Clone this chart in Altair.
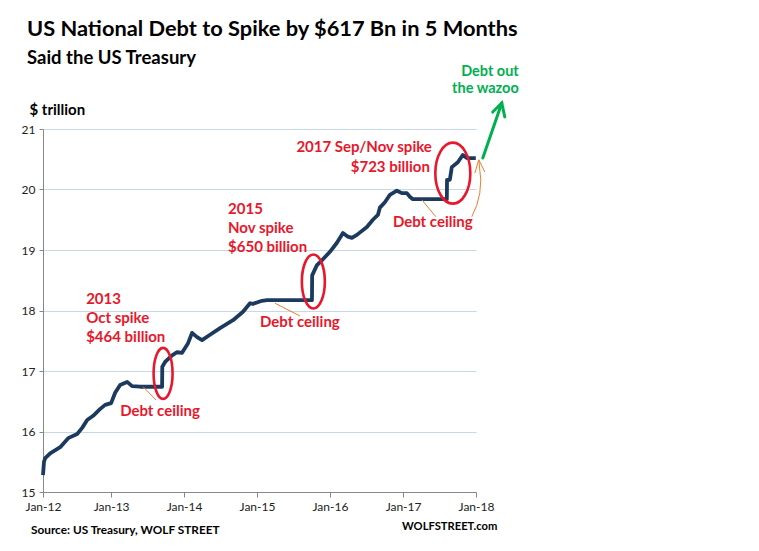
import altair as alt
import pandas as pd

# ---------------- data ----------------
dates = ["2012-01-26", "2012-01-31", "2012-02-06", "2012-03-02", "2012-04-21", "2012-05-31",
         "2012-07-15", "2012-08-09", "2012-09-03", "2012-10-03", "2012-11-06", "2012-12-02",
         "2013-01-01", "2013-01-21", "2013-02-15", "2013-03-22", "2013-04-16", "2013-05-26",
         "2013-09-13", "2013-09-14", "2013-09-28", "2013-11-02", "2013-11-27", "2013-12-22",
         "2014-01-21", "2014-02-10", "2014-03-07", "2014-04-01", "2014-05-11", "2014-06-30",
         "2014-09-03", "2014-10-23", "2014-11-27", "2014-12-12",
         "2015-01-26", "2015-02-20", "2015-10-03", "2015-10-04", "2015-10-28", "2015-11-22",
         "2016-01-01", "2016-02-05", "2016-03-06", "2016-03-31", "2016-04-20", "2016-05-15",
         "2016-07-04", "2016-08-03", "2016-08-28", "2016-09-07", "2016-10-02", "2016-10-27",
         "2016-12-01", "2016-12-26",
         "2017-01-20", "2017-02-04", "2017-02-19", "2017-08-08", "2017-08-09", "2017-08-23",
         "2017-09-02", "2017-10-02", "2017-10-27", "2017-11-16", "2017-12-31"]
debt = [15.28, 15.50, 15.56, 15.64, 15.74, 15.89, 15.96, 16.06, 16.19, 16.26, 16.37, 16.44,
        16.47, 16.64, 16.77, 16.82, 16.75, 16.74, 16.74, 17.07, 17.15, 17.26, 17.31, 17.30,
        17.46, 17.63, 17.56, 17.51, 17.60, 17.71, 17.84, 17.98, 18.12, 18.11,
        18.16, 18.17, 18.17, 18.58, 18.75, 18.83,
        18.97, 19.12, 19.28, 19.22, 19.20, 19.25, 19.38, 19.50, 19.58, 19.70, 19.79, 19.91,
        19.98, 19.94,
        19.94, 19.88, 19.84, 19.84, 20.16, 20.16, 20.37, 20.45, 20.57, 20.52, 20.52]

x_tick_dates = ["2012-01-26", "2013-01-01", "2014-01-01", "2015-01-01",
                "2016-01-01", "2017-01-01", "2018-01-01"]
y_ticks = [15, 16, 17, 18, 19, 20, 21]

# ellipse centres around the three spikes
ell_dates = ["2013-09-18", "2015-10-10", "2017-09-07"]
ell_values = [16.96, 18.48, 20.27]

# red annotation texts (left aligned)
red_text = ["2013", "Oct spike", "$464 billion", "Debt ceiling",
            "2015", "Nov spike", "$650 billion", "Debt ceiling", "Debt ceiling"]
red_dates = ["2012-08-29", "2012-08-29", "2012-08-29", "2013-02-15",
             "2014-08-09", "2014-08-09", "2014-08-09", "2015-01-16", "2016-11-11"]
red_values = [18.19, 17.88, 17.56, 16.34, 19.68, 19.36, 19.05, 17.81, 19.46]

# red annotation texts (right aligned)
red_r_text = ["2017 Sep/Nov spike", "$723 billion"]
red_r_dates = ["2017-05-25", "2017-05-15"]
red_r_values = [20.70, 20.37]

# green annotation
green_text = ["Debt out", "the wazoo"]
green_dates = ["2018-08-03", "2018-08-03"]
green_values = [21.94, 21.66]

# orange leader lines
lead_group = [1, 1, 2, 2, 3, 3, 4, 4, 4, 4, 4, 4, 5, 5, 5]
lead_dates = ["2013-06-10", "2013-08-14", "2015-04-01", "2015-08-04", "2017-04-05", "2017-06-14",
              "2017-12-11", "2018-01-05", "2018-01-20", "2018-01-25", "2018-01-20", "2018-01-15",
              "2017-12-26", "2018-01-15", "2018-02-14"]
lead_values = [16.74, 16.52, 18.12, 17.91, 19.83, 19.55,
               19.55, 19.74, 19.94, 20.16, 20.32, 20.49,
               20.27, 20.49, 20.29]

# green arrow
arrow_group = [1, 1, 2, 2, 2]
arrow_dates = ["2018-02-04", "2018-05-10", "2018-03-26", "2018-05-10", "2018-05-25"]
arrow_values = [20.52, 21.43, 21.28, 21.43, 21.20]

title_text = "US National Debt to Spike by $617 Bn in 5 Months"
subtitle_text = "Said the US Treasury"
source_text = "Source: US Treasury, WOLF STREET"
brand_text = "WOLFSTREET.com"

# ---------------- styling ----------------
FONT = "Lato"
NAVY = "#1C3A5E"
RED = "#E8172B"
GREEN = "#00B050"
ORANGE = "#ED7D31"


def dt(s):
    y, m, d = (int(p) for p in s.split("-"))
    return alt.DateTime(year=y, month=m, date=d, utc=True)


x_scale = alt.Scale(type="utc", domain=[dt("2012-01-26"), dt("2018-01-01")])
y_scale = alt.Scale(domain=[15, 21], nice=False, zero=False)

x_axis = alt.Axis(values=[dt(s) for s in x_tick_dates], format="%b-%y", title=None,
                  labelFont=FONT, labelFontSize=12, labelColor="#222222", labelPadding=4,
                  tickSize=5, tickColor="#888888", domainColor="#888888", grid=False,
                  labelFlush=False)
y_axis = alt.Axis(values=y_ticks, title="$ trillion", titleAngle=0, titleAlign="left",
                  titleBaseline="middle", titleX=-14, titleY=-20, titleFont=FONT,
                  titleFontSize=15, titleFontWeight="bold", titleColor="#000000",
                  labelFont=FONT, labelFontSize=12, labelColor="#222222", labelPadding=4,
                  tickSize=4, tickColor="#888888", domainColor="#888888",
                  gridColor="#C9D8E8", gridWidth=1)

X = lambda: alt.X("date:T", scale=x_scale, axis=x_axis)
Y = lambda: alt.Y("value:Q", scale=y_scale, axis=y_axis)

debt_df = pd.DataFrame({"date": dates, "value": debt})
line = alt.Chart(debt_df).mark_line(color=NAVY, strokeWidth=3.8, strokeJoin="round").encode(
    x=X(), y=Y())


def ellipse_path(a):
    k = 0.5523
    return (f"M 0 -1 C {k*a:.4f} -1 {a:.4f} {-k:.4f} {a:.4f} 0 "
            f"C {a:.4f} {k:.4f} {k*a:.4f} 1 0 1 "
            f"C {-k*a:.4f} 1 {-a:.4f} {k:.4f} {-a:.4f} 0 "
            f"C {-a:.4f} {-k:.4f} {-k*a:.4f} -1 0 -1 Z")


ell_sizes = [(19, 51), (23, 54), (35, 61)]  # (width, height) in px
ellipses = []
for i, (w, h) in enumerate(ell_sizes):
    df = pd.DataFrame({"date": [ell_dates[i]], "value": [ell_values[i]]})
    ellipses.append(
        alt.Chart(df).mark_point(shape=ellipse_path(w / h), size=h * h, filled=False,
                                 stroke=RED, strokeWidth=2.6, opacity=1).encode(x=X(), y=Y())
    )

lead_df = pd.DataFrame({"date": lead_dates, "value": lead_values, "g": lead_group,
                        "i": list(range(len(lead_dates)))})
leaders = alt.Chart(lead_df).mark_line(color=ORANGE, strokeWidth=1).encode(
    x=X(), y=Y(), detail="g:N", order="i:Q")

arrow_df = pd.DataFrame({"date": arrow_dates, "value": arrow_values, "g": arrow_group,
                         "i": list(range(len(arrow_dates)))})
arrow = alt.Chart(arrow_df).mark_line(color=GREEN, strokeWidth=3, strokeCap="round",
                                      strokeJoin="miter").encode(
    x=X(), y=Y(), detail="g:N", order="i:Q")

red_df = pd.DataFrame({"date": red_dates, "value": red_values, "t": red_text})
red_labels = alt.Chart(red_df).mark_text(align="left", baseline="middle", font=FONT,
                                         fontSize=15, fontWeight="bold", color=RED).encode(
    x=X(), y=Y(), text="t:N")

red_r_df = pd.DataFrame({"date": red_r_dates, "value": red_r_values, "t": red_r_text})
red_r_labels = alt.Chart(red_r_df).mark_text(align="right", baseline="middle", font=FONT,
                                             fontSize=15, fontWeight="bold", color=RED).encode(
    x=X(), y=Y(), text="t:N")

green_df = pd.DataFrame({"date": green_dates, "value": green_values, "t": green_text})
green_labels = alt.Chart(green_df).mark_text(align="right", baseline="middle", font=FONT,
                                             fontSize=14.5, fontWeight="bold",
                                             color=GREEN).encode(x=X(), y=Y(), text="t:N")

one = pd.DataFrame({"k": [0]})
title = alt.Chart(one).mark_text(text=title_text, align="left", baseline="middle", font=FONT,
                                 fontSize=21.8, fontWeight="bold", color="#000000").encode(
    x=alt.value(-16), y=alt.value(-100))
subtitle = alt.Chart(one).mark_text(text=subtitle_text, align="left", baseline="middle",
                                    font=FONT, fontSize=18.5, fontWeight="bold",
                                    color="#000000").encode(x=alt.value(-16), y=alt.value(-71))
source = alt.Chart(one).mark_text(text=source_text, align="left", baseline="middle", font=FONT,
                                  fontSize=11.8, fontWeight="bold", color="#000000").encode(
    x=alt.value(-12), y=alt.value(401))
brand = alt.Chart(one).mark_text(text=brand_text, align="left", baseline="middle", font=FONT,
                                 fontSize=11.2, fontWeight="bold", color="#000000").encode(
    x=alt.value(359), y=alt.value(398))

chart = alt.layer(line, *ellipses, leaders, arrow, red_labels, red_r_labels, green_labels,
                  title, subtitle, source, brand).properties(
    width=433, height=363,
    autosize=alt.AutoSizeParams(type="none"),
    padding={"left": 35, "top": 121, "right": 60, "bottom": 55},
    background="white",
).configure_view(stroke=None)

chart.save("out.html", embed_options={"renderer": "svg", "actions": False})
